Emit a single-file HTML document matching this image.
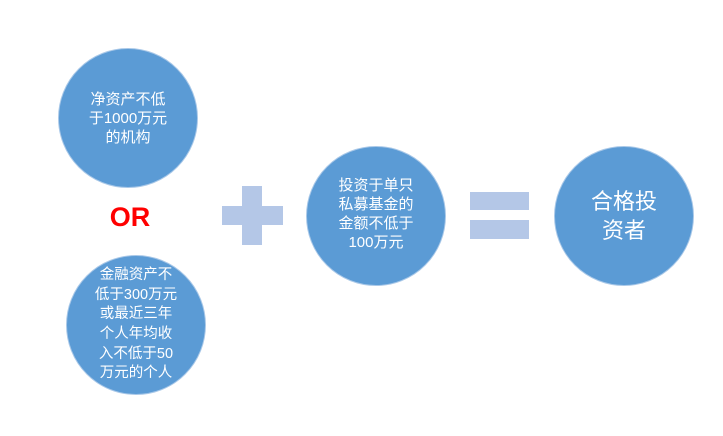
<!DOCTYPE html>
<html><head><meta charset="utf-8"><style>
body{margin:0;width:723px;height:436px;background:#fff;position:relative;overflow:hidden;font-family:"Liberation Sans","Noto Sans CJK SC",sans-serif}
.c{position:absolute;width:140px;height:140px;border-radius:50%;background:#5b9bd5;border:1px solid #a9c8e8;box-sizing:border-box;color:#fff;display:flex;align-items:center;justify-content:center;text-align:center;font-size:15px;line-height:19px}
.b{position:absolute;background:#b4c7e7}
</style></head><body>
<div class="c" style="left:58px;top:48px"><div style="margin-top:0px">净资产不低<br>于1000万元<br>的机构</div></div>
<div style="position:absolute;left:100px;top:202px;width:60px;text-align:center;color:#ff0000;font-weight:bold;font-size:27px">OR</div>
<div class="c" style="left:66px;top:255px"><div style="font-size:14.5px;line-height:19.6px;margin-top:0px">金融资产不<br>低于300万元<br>或最近三年<br>个人年均收<br>入不低于50<br>万元的个人</div></div>
<div class="b" style="left:242px;top:186px;width:20px;height:59px"></div>
<div class="b" style="left:222px;top:206px;width:61px;height:19px"></div>
<div class="c" style="left:306px;top:146px"><div style="margin-top:-4px">投资于单只<br>私募基金的<br>金额不低于<br>100万元</div></div>
<div class="b" style="left:470px;top:192px;width:59px;height:18px"></div>
<div class="b" style="left:470px;top:220px;width:59px;height:19px"></div>
<div class="c" style="left:554px;top:146px"><div style="font-size:22px;line-height:29px;margin-top:0px">合格投<br>资者</div></div>
</body></html>
